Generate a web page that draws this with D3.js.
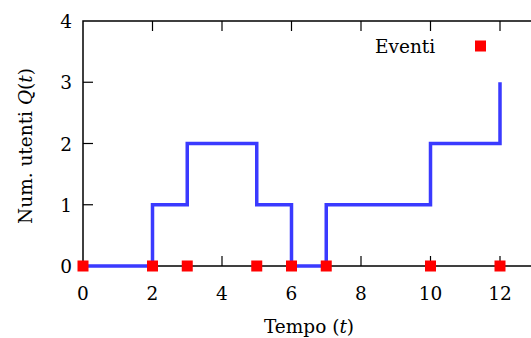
<!DOCTYPE html>
<html>
<head>
<meta charset="utf-8">
<script src="https://cdn.jsdelivr.net/npm/d3@7"></script>
<style>
  body { margin: 0; background: #fff; }
  text { font-family: "DejaVu Serif", "Liberation Serif", serif; fill: #000; }
</style>
</head>
<body>
<div id="chart"></div>
<script>
// Data
const stepTimes = [0, 2, 3, 5, 6, 7, 10, 12];
const stepValues = [0, 1, 2, 1, 0, 1, 2, 3];
const eventTimes = [0, 2, 3, 5, 6, 7, 10, 12];
const xTicks = [0, 2, 4, 6, 8, 10, 12];
const yTicks = [0, 1, 2, 3, 4];

const width = 531, height = 338;
const fs = 18.5;
const svg = d3.select('#chart').append('svg')
  .attr('width', width)
  .attr('height', height);

const x = d3.scaleLinear().domain([0, 13]).range([83, 534.75]);
const y = d3.scaleLinear().domain([0, 4]).range([266, 21]);

// frame
svg.append('rect')
  .attr('x', x(0)).attr('y', y(4))
  .attr('width', x(13) - x(0)).attr('height', y(0) - y(4))
  .attr('fill', 'none').attr('stroke', '#000').attr('stroke-width', 1.5);

// ticks (inward)
const tickLen = 10;
svg.append('g').selectAll('line').data(xTicks.filter(d => d > 0)).enter()
  .append('line')
  .attr('x1', d => x(d)).attr('x2', d => x(d))
  .attr('y1', y(0)).attr('y2', y(0) - tickLen)
  .attr('stroke', '#000').attr('stroke-width', 1.2);
svg.append('g').selectAll('line').data(xTicks.filter(d => d > 0)).enter()
  .append('line')
  .attr('x1', d => x(d)).attr('x2', d => x(d))
  .attr('y1', y(4)).attr('y2', y(4) + tickLen)
  .attr('stroke', '#000').attr('stroke-width', 1.2);
svg.append('g').selectAll('line').data(yTicks.filter(d => d > 0 && d < 4)).enter()
  .append('line')
  .attr('x1', x(0)).attr('x2', x(0) + tickLen)
  .attr('y1', d => y(d)).attr('y2', d => y(d))
  .attr('stroke', '#000').attr('stroke-width', 1.2);

// tick labels
svg.append('g').selectAll('text').data(xTicks).enter()
  .append('text')
  .attr('x', d => x(d)).attr('y', y(0) + 34)
  .attr('text-anchor', 'middle')
  .attr('font-size', fs)
  .text(d => d);
svg.append('g').selectAll('text').data(yTicks).enter()
  .append('text')
  .attr('x', x(0) - 11).attr('y', d => y(d) + 7)
  .attr('text-anchor', 'end')
  .attr('font-size', fs)
  .text(d => d);

// axis titles
const xt = svg.append('text')
  .attr('x', 309).attr('y', 333)
  .attr('text-anchor', 'middle').attr('font-size', fs);
xt.append('tspan').text('Tempo (');
xt.append('tspan').attr('font-style', 'italic').text('t');
xt.append('tspan').text(')');

const yt = svg.append('text')
  .attr('transform', 'translate(32,146) rotate(-90)')
  .attr('text-anchor', 'middle').attr('font-size', fs);
yt.append('tspan').text('Num. utenti ');
yt.append('tspan').attr('font-style', 'italic').text('Q');
yt.append('tspan').text('(');
yt.append('tspan').attr('font-style', 'italic').text('t');
yt.append('tspan').text(')');

// step line
const pts = stepTimes.map((t, i) => [t, stepValues[i]]);
const line = d3.line()
  .x(d => x(d[0])).y(d => y(d[1]))
  .curve(d3.curveStepAfter);
svg.append('path')
  .datum(pts)
  .attr('d', line)
  .attr('fill', 'none')
  .attr('stroke', '#3a3aff')
  .attr('stroke-width', 3.5);

// events
const sq = 11;
svg.append('g').selectAll('rect').data(eventTimes).enter()
  .append('rect')
  .attr('x', d => x(d) - sq / 2).attr('y', y(0) - sq / 2)
  .attr('width', sq).attr('height', sq)
  .attr('fill', '#ff0000');

// legend
svg.append('text')
  .attr('x', 375).attr('y', 53)
  .attr('font-size', fs)
  .text('Eventi');
svg.append('rect')
  .attr('x', 480.5 - sq / 2).attr('y', 46 - sq / 2)
  .attr('width', sq).attr('height', sq)
  .attr('fill', '#ff0000');
</script>
</body>
</html>
